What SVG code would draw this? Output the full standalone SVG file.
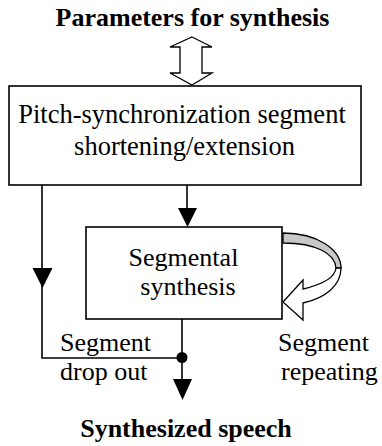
<svg xmlns="http://www.w3.org/2000/svg" width="382" height="446" viewBox="0 0 382 446">
<style>
.box{fill:#fff;stroke:#000;stroke-width:1.6}
.ln{fill:none;stroke:#000;stroke-width:1.6}
.hd{fill:#000;stroke:none}
.ol{stroke:#000;stroke-width:1.3;stroke-linejoin:miter}
</style>
<rect width="382" height="446" fill="#fff"/>
<g id="title">
<text font-family="'Liberation Serif', serif" font-size="26" font-weight="bold" x="192.5" y="26" text-anchor="middle">Parameters for synthesis</text>
</g>
<g id="box-shortening">
<rect class="box" x="9" y="86" width="352" height="99"/>
<text font-family="'Liberation Serif', serif" font-size="26.5" x="182" y="123" text-anchor="middle">Pitch-synchronization segment</text>
<text font-family="'Liberation Serif', serif" font-size="26.5" x="184.5" y="155" text-anchor="middle">shortening/extension</text>
</g>
<g id="box-segmental">
<rect class="box" x="86" y="227" width="196" height="92"/>
<text font-family="'Liberation Serif', serif" font-size="26" x="183.5" y="266" text-anchor="middle">Segmental</text>
<text font-family="'Liberation Serif', serif" font-size="26" x="188" y="295" text-anchor="middle">synthesis</text>
</g>
<g id="label-dropout">
<text font-family="'Liberation Serif', serif" font-size="26" x="60" y="351">Segment</text>
<text font-family="'Liberation Serif', serif" font-size="26" x="60" y="380">drop out</text>
</g>
<g id="label-repeating">
<text font-family="'Liberation Serif', serif" font-size="26" x="278" y="351">Segment</text>
<text font-family="'Liberation Serif', serif" font-size="26" x="281" y="380">repeating</text>
</g>
<g id="output">
<text font-family="'Liberation Serif', serif" font-size="26" font-weight="bold" x="186" y="437" text-anchor="middle">Synthesized speech</text>
</g>
<g id="connectors">
<path class="ol" fill="#fff" d="M192,37 L212,47 L202,47 L202,73 L212,73 L192,85 L170,73 L180,73 L180,47 L170,47 Z"/>
<line class="ln" x1="187" y1="185" x2="187" y2="210"/>
<path class="hd" d="M178,208 L197,208 L187.5,227 Z"/>
<polyline class="ln" points="42,185 42,358 182,358"/>
<path class="hd" d="M32.5,268 L52.5,268 L42.5,288 Z"/>
<line class="ln" x1="182" y1="319" x2="182" y2="382"/>
<circle cx="182" cy="357.5" r="5.5" fill="#000"/>
<path class="hd" d="M173,379 L192,379 L182.5,400 Z"/>
<path class="ol" fill="#c8c8c8" d="M283,233 C318,233 341,250 341,268 L336,268 C335,254 317,243 283,243 Z"/>
<path class="ol" fill="#fff" d="M341,268 C341,285 326,298 303,303 L303,320 L283,302 L303,280 L303,289 C320,285 335,278 336,268 Z"/>
</g>
</svg>
